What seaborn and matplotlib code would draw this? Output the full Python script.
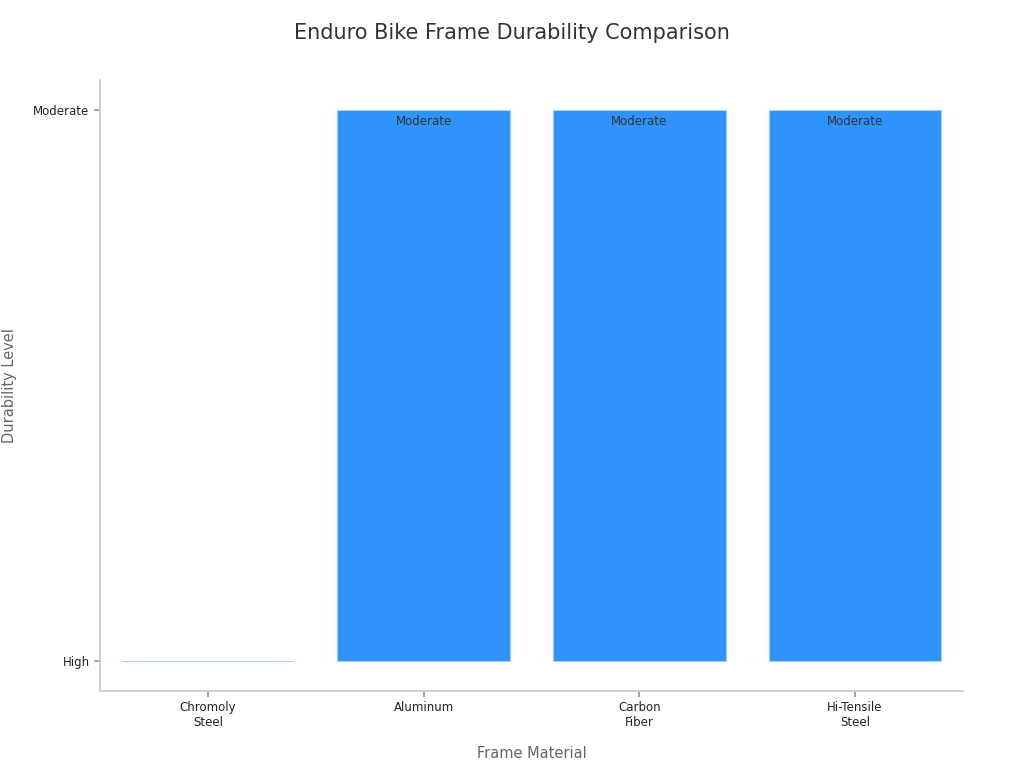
import matplotlib
matplotlib.use("Agg")
import matplotlib.pyplot as plt
import seaborn as sns
import pandas as pd

materials = ["Chromoly\nSteel", "Aluminum", "Carbon\nFiber", "Hi-Tensile\nSteel"]
levels = ["High", "Moderate", "Moderate", "Moderate"]
level_ticks = ["High", "Moderate"]
values = [level_ticks.index(l) for l in levels]

sns.set_theme(style="white")
plt.rcParams['font.family'] = ['DejaVu Sans']
df = pd.DataFrame({"Frame Material": materials, "v": values})

fig = plt.figure(figsize=(10.24, 7.68), dpi=100)
ax = fig.add_axes([100/1024, 1-691/768, 863/1024, 611/768])
sns.barplot(data=df, x="Frame Material", y="v", color="#2E93FA", saturation=1,
            width=0.8, edgecolor="#a8d0fb", linewidth=0.8, ax=ax)
for i, (v, l) in enumerate(zip(values, levels)):
    if v > 0:
        ax.text(i, v - 0.008, l, ha="center", va="top", fontsize=8.5, color="#333333")
ax.set_ylim(-0.055, 1.055)
ax.set_yticks([0, 1])
ax.set_yticklabels(level_ticks, fontsize=8.5, color="#222222")
ax.tick_params(axis="x", labelsize=8.5, colors="#222222", length=4, color="#999999")
ax.tick_params(axis="y", length=4, color="#999999", left=True)
ax.tick_params(axis="x", bottom=True)
for t in ax.get_xticklabels():
    t.set_color("#222222")
ax.set_xlabel("Frame Material", fontsize=10.5, color="#666666", labelpad=12)
ax.set_ylabel("Durability Level", fontsize=10.5, color="#666666", labelpad=12)
for s in ["top", "right"]:
    ax.spines[s].set_visible(False)
for s in ["left", "bottom"]:
    ax.spines[s].set_color("#cccccc")
fig.text(512/1024, 1-33/768, "Enduro Bike Frame Durability Comparison", ha="center", va="center",
         fontsize=15, color="#333333")
fig.savefig("out.png", dpi=100)
